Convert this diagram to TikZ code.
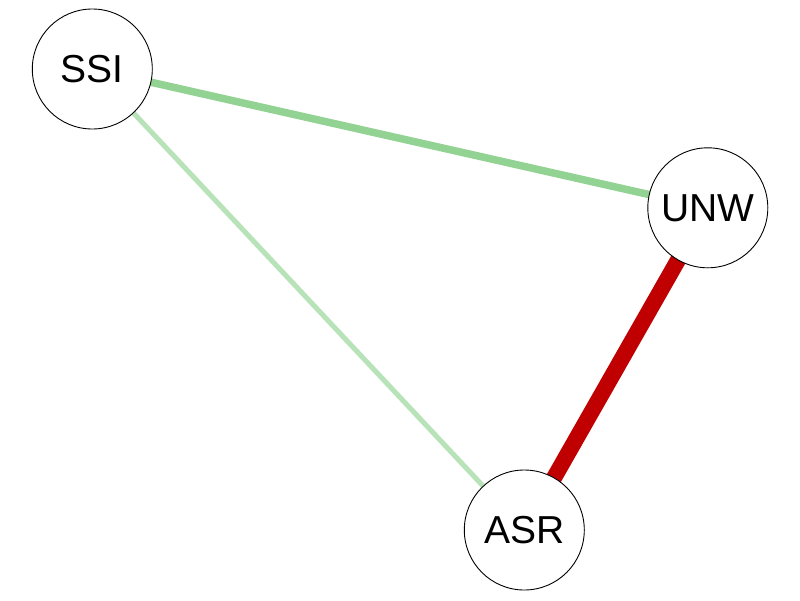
\documentclass[tikz,border=0pt]{standalone}
\usepackage{fontspec}
\setmainfont{Liberation Sans}
\definecolor{edgeA}{RGB}{146,210,146}
\definecolor{edgeB}{RGB}{184,226,184}
\definecolor{edgeC}{RGB}{192,0,0}
\begin{document}
\begin{tikzpicture}[x=1pt,y=-1pt,
  vertex/.style={circle,draw=black,line width=0.9pt,fill=white,minimum size=120pt,inner sep=0pt,font=\fontsize{39}{40}\selectfont},
  link/.style={line cap=butt}]
\useasboundingbox[fill=white] (0,0) rectangle (800,600);
\coordinate (pSSI) at (92.3,69);
\coordinate (pUNW) at (707.8,207.8);
\coordinate (pASR) at (524.3,530);
\draw[link,edgeA,line width=7.5pt] (pSSI) -- (pUNW);
\draw[link,edgeB,line width=5pt] (pSSI) -- (pASR);
\draw[link,edgeC,line width=16pt] (pUNW) -- (pASR);
\node[vertex] (SSI) at (pSSI) {SSI};
\node[vertex] (UNW) at (pUNW) {UNW};
\node[vertex] (ASR) at (pASR) {ASR};
\end{tikzpicture}
\end{document}
